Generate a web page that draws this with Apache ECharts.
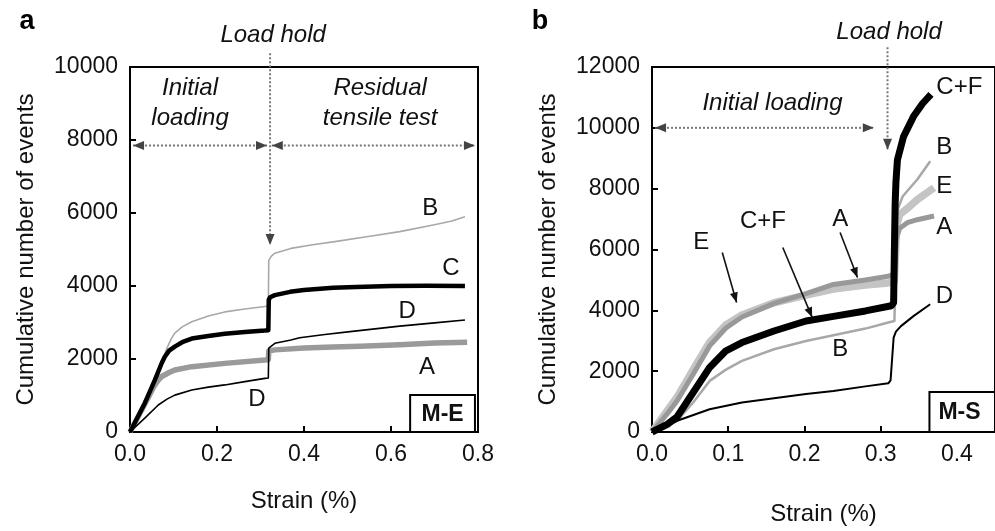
<!DOCTYPE html>
<html>
<head>
<meta charset="utf-8">
<script src="https://cdn.jsdelivr.net/npm/echarts@6/dist/echarts.min.js"></script>
<style>
  html, body { margin: 0; padding: 0; background: #fff; }
  #chart { width: 995px; height: 531px; }
</style>
</head>
<body>
<div id="chart"></div>
<script>
  // ---- panel a (M-E) ----
  var aB_strain = [0, 0.02, 0.04, 0.06, 0.075, 0.085, 0.095, 0.103, 0.12, 0.142, 0.18, 0.218, 0.264, 0.31, 0.318, 0.319, 0.325, 0.333, 0.37, 0.42, 0.467, 0.544, 0.62, 0.697, 0.74, 0.77];
  var aB_events = [0, 470, 960, 1500, 1960, 2300, 2560, 2710, 2880, 3020, 3180, 3290, 3370, 3440, 3460, 4700, 4820, 4900, 5030, 5130, 5210, 5350, 5490, 5670, 5780, 5900];
  var aC_strain = [0, 0.02, 0.034, 0.057, 0.073, 0.08, 0.09, 0.103, 0.12, 0.142, 0.18, 0.218, 0.264, 0.31, 0.318, 0.319, 0.322, 0.333, 0.368, 0.4, 0.467, 0.52, 0.6, 0.68, 0.77];
  var aC_events = [0, 460, 790, 1420, 1890, 2060, 2230, 2340, 2460, 2560, 2630, 2690, 2740, 2780, 2790, 3620, 3690, 3750, 3840, 3890, 3950, 3970, 4000, 4010, 4000];
  var aA_strain = [0, 0.02, 0.04, 0.055, 0.065, 0.073, 0.09, 0.103, 0.142, 0.218, 0.31, 0.318, 0.319, 0.333, 0.4, 0.467, 0.529, 0.62, 0.7, 0.775];
  var aA_events = [0, 450, 900, 1250, 1420, 1520, 1630, 1700, 1790, 1880, 1970, 1980, 2220, 2250, 2300, 2330, 2350, 2390, 2440, 2460];
  var aD_strain = [0, 0.034, 0.065, 0.085, 0.103, 0.142, 0.18, 0.218, 0.264, 0.31, 0.318, 0.319, 0.333, 0.37, 0.39, 0.448, 0.506, 0.62, 0.7, 0.77];
  var aD_events = [0, 380, 740, 900, 1010, 1150, 1230, 1290, 1380, 1470, 1480, 2300, 2430, 2520, 2580, 2670, 2750, 2900, 2990, 3070];

  // ---- panel b (M-S) ----
  var bCF_strain = [0, 0.02, 0.033, 0.054, 0.0756, 0.097, 0.118, 0.16, 0.202, 0.238, 0.28, 0.314, 0.317, 0.318, 0.319, 0.32, 0.322, 0.33, 0.343, 0.355, 0.366];
  var bCF_events = [0, 250, 500, 1300, 2120, 2670, 2940, 3320, 3650, 3800, 3980, 4150, 4250, 6000, 7500, 8200, 8950, 9710, 10370, 10800, 11100];
  var bA_strain = [0, 0.02, 0.033, 0.054, 0.0756, 0.097, 0.118, 0.16, 0.202, 0.238, 0.28, 0.31, 0.318, 0.321, 0.325, 0.335, 0.348, 0.37];
  var bA_events = [0, 600, 1030, 1900, 2830, 3420, 3780, 4230, 4550, 4850, 5000, 5120, 5200, 6400, 6700, 6880, 6980, 7100];
  var bE_strain = [0, 0.02, 0.033, 0.054, 0.0756, 0.097, 0.118, 0.16, 0.202, 0.238, 0.28, 0.31, 0.318, 0.321, 0.325, 0.335, 0.348, 0.37];
  var bE_events = [0, 700, 1150, 2050, 2950, 3520, 3850, 4250, 4500, 4700, 4830, 4900, 4950, 6800, 7150, 7350, 7640, 8030];
  var bB_strain = [0, 0.02, 0.033, 0.054, 0.0756, 0.097, 0.118, 0.16, 0.202, 0.238, 0.28, 0.31, 0.318, 0.32, 0.322, 0.329, 0.348, 0.365];
  var bB_events = [0, 200, 370, 970, 1680, 2050, 2340, 2720, 2990, 3180, 3400, 3600, 3650, 5500, 7300, 7750, 8300, 8900];
  var bD_strain = [0, 0.0165, 0.033, 0.0756, 0.118, 0.16, 0.202, 0.238, 0.28, 0.31, 0.313, 0.315, 0.317, 0.32, 0.3266, 0.343, 0.365];
  var bD_events = [0, 160, 370, 750, 970, 1110, 1250, 1350, 1500, 1600, 1700, 2400, 3100, 3300, 3480, 3810, 4200];

  var FONT = '"Liberation Sans", Arial, sans-serif';

  function zip(xs, ys) {
    return xs.map(function (x, i) { return [x, ys[i]]; });
  }

  function curve(name, idx, xs, ys, color, width) {
    return {
      name: name,
      type: 'line',
      xAxisIndex: idx,
      yAxisIndex: idx,
      data: zip(xs, ys),
      showSymbol: false,
      symbol: 'none',
      lineStyle: { color: color, width: width, join: 'round' },
      clip: true,
      animation: false
    };
  }

  function xAxisCfg(idx, max, interval, gap, showMax) {
    return {
      type: 'value', gridIndex: idx, min: 0, max: max, interval: interval,
      name: 'Strain (%)', nameLocation: 'middle', nameGap: gap,
      nameTextStyle: { fontSize: 24, fontFamily: FONT, color: '#111' },
      axisLine: { lineStyle: { color: '#000', width: 2 } },
      axisTick: { inside: true, length: 6, lineStyle: { color: '#000', width: 2 } },
      axisLabel: { fontSize: 23, fontFamily: FONT, color: '#111', margin: 11, showMaxLabel: showMax,
        formatter: function (v) { return v.toFixed(1); } },
      splitLine: { show: false }
    };
  }

  function yAxisCfg(idx, max) {
    return {
      type: 'value', gridIndex: idx, min: 0, max: max, interval: 2000,
      name: 'Cumulative number of events', nameLocation: 'middle', nameGap: 92,
      nameTextStyle: { fontSize: 24, fontFamily: FONT, color: '#111' },
      axisLine: { lineStyle: { color: '#000', width: 2 } },
      axisTick: { inside: true, length: 6, lineStyle: { color: '#000', width: 2 } },
      axisLabel: { fontSize: 23, fontFamily: FONT, color: '#111', margin: 12,
        formatter: function (v) { return String(v); } },
      splitLine: { show: false }
    };
  }

  var chart = echarts.init(document.getElementById('chart'));
  chart.setOption({
    animation: false,
    backgroundColor: '#fff',
    grid: [
      { left: 130, top: 67, width: 348, height: 365, show: true, borderColor: '#000', borderWidth: 2 },
      { left: 652, top: 67, width: 355, height: 366, show: true, borderColor: '#000', borderWidth: 2 }
    ],
    xAxis: [xAxisCfg(0, 0.8, 0.2, 57, true), xAxisCfg(1, 0.45, 0.1, 70, false)],
    yAxis: [yAxisCfg(0, 10000), yAxisCfg(1, 12000)],
    series: [
      curve('B', 0, aB_strain, aB_events, '#a8a8a8', 1.6),
      curve('A', 0, aA_strain, aA_events, '#9a9a9a', 5.5),
      curve('D', 0, aD_strain, aD_events, '#000', 1.6),
      curve('C', 0, aC_strain, aC_events, '#000', 4.5),
      curve('E', 1, bE_strain, bE_events, '#c4c4c4', 7.5),
      curve('A', 1, bA_strain, bA_events, '#999', 5),
      curve('B', 1, bB_strain, bB_events, '#a8a8a8', 2.5),
      curve('D', 1, bD_strain, bD_events, '#000', 2),
      curve('C+F', 1, bCF_strain, bCF_events, '#000', 7)
    ]
  });

  // ---- annotations, placed in data coordinates ----
  var aLabels = [
    { t: 'B', x: 0.69, y: 6137 }, { t: 'C', x: 0.738, y: 4493 },
    { t: 'D', x: 0.637, y: 3315 }, { t: 'A', x: 0.683, y: 1781 },
    { t: 'D', x: 0.292, y: 904 }
  ];
  var bLabels = [
    { t: 'B', x: 0.3835, y: 9344 }, { t: 'E', x: 0.3835, y: 8066 },
    { t: 'A', x: 0.3835, y: 6721 }, { t: 'D', x: 0.3835, y: 4459 },
    { t: 'B', x: 0.247, y: 2721 }, { t: 'E', x: 0.0646, y: 6230 },
    { t: 'C+F', x: 0.1456, y: 6918 }, { t: 'A', x: 0.247, y: 6984 }
  ];
  var bPointers = [
    { from: [0.0922, 5900], to: [0.111, 4260] },
    { from: [0.1716, 6066], to: [0.2101, 3770] },
    { from: [0.2468, 6557], to: [0.2696, 5082] }
  ];

  function P(g, x, y) { return chart.convertToPixel({ gridIndex: g }, [x, y]); }

  function head(tip, from, len, half, color) {
    var dx = tip[0] - from[0], dy = tip[1] - from[1];
    var d = Math.sqrt(dx * dx + dy * dy), ux = dx / d, uy = dy / d;
    var bx = tip[0] - ux * len, by = tip[1] - uy * len;
    return { type: 'polygon', z: 110,
      shape: { points: [tip, [bx - uy * half, by + ux * half], [bx + uy * half, by - ux * half]] },
      style: { fill: color } };
  }

  function dotted(p0, p1, both) {
    var els = [{ type: 'line', z: 100,
      shape: { x1: p0[0], y1: p0[1], x2: p1[0], y2: p1[1] },
      style: { stroke: '#777', lineWidth: 2, lineDash: [2, 2] } }];
    els.push(head(p1, p0, 11, 4.5, '#444'));
    if (both) els.push(head(p0, p1, 11, 4.5, '#444'));
    return els;
  }

  function txt(p, s, font, align) {
    return { type: 'text', z: 120, x: p[0], y: p[1],
      style: { text: s, font: font, fill: '#111', align: align || 'center', verticalAlign: 'middle', lineHeight: 30 } };
  }

  var LBL = '24px ' + FONT, ITAL = 'italic 24px ' + FONT, BOLD = 'bold 23px ' + FONT;
  var g = [];

  g.push({ type: 'text', x: 27, y: 22, style: { text: 'a', font: 'bold 27px ' + FONT, fill: '#000', align: 'center', verticalAlign: 'middle' } });
  g.push({ type: 'text', x: 540, y: 22, style: { text: 'b', font: 'bold 27px ' + FONT, fill: '#000', align: 'center', verticalAlign: 'middle' } });

  aLabels.forEach(function (l) { g.push(txt(P(0, l.x, l.y), l.t, LBL)); });
  bLabels.forEach(function (l) { g.push(txt(P(1, l.x, l.y), l.t, LBL)); });
  g.push(txt(P(1, 0.373, 11344), 'C+F', LBL, 'left'));

  g.push(txt(P(0, 0.329, 10877), 'Load hold', ITAL));
  g.push(txt(P(0, 0.138, 9014), 'Initial\nloading', ITAL));
  g.push(txt(P(0, 0.575, 9014), 'Residual\ntensile test', ITAL));
  g.push(txt(P(1, 0.311, 13148), 'Load hold', ITAL));
  g.push(txt(P(1, 0.158, 10820), 'Initial loading', ITAL));

  g = g.concat(dotted(P(0, 0.322, 10380), P(0, 0.322, 5120), false));
  g = g.concat(dotted(P(0, 0.007, 7850), P(0, 0.315, 7850), true));
  g = g.concat(dotted(P(0, 0.326, 7850), P(0, 0.793, 7850), true));
  g = g.concat(dotted(P(1, 0.309, 12650), P(1, 0.309, 9280), false));
  g = g.concat(dotted(P(1, 0.004, 10000), P(1, 0.291, 10000), true));

  bPointers.forEach(function (a) {
    var p0 = P(1, a.from[0], a.from[1]), p1 = P(1, a.to[0], a.to[1]);
    g.push({ type: 'line', z: 100, shape: { x1: p0[0], y1: p0[1], x2: p1[0], y2: p1[1] },
      style: { stroke: '#111', lineWidth: 1.6 } });
    g.push(head(p1, p0, 10, 4, '#111'));
  });

  // tag boxes
  var me0 = P(0, 0.644, 1014), me1 = P(0, 0.793, 0);
  g.push({ type: 'rect', z: 105, shape: { x: me0[0], y: me0[1], width: me1[0] - me0[0], height: me1[1] - me0[1] },
    style: { fill: '#fff', stroke: '#000', lineWidth: 2 } });
  g.push(txt([(me0[0] + me1[0]) / 2, (me0[1] + me1[1]) / 2 + 1], 'M-E', BOLD));
  var ms0 = P(1, 0.364, 1311), ms1 = P(1, 0.45, 0);
  g.push({ type: 'rect', z: 105, shape: { x: ms0[0], y: ms0[1], width: ms1[0] - ms0[0], height: ms1[1] - ms0[1] },
    style: { fill: '#fff', stroke: '#000', lineWidth: 2 } });
  g.push(txt([ms0[0] + 9, (ms0[1] + ms1[1]) / 2 + 1], 'M-S', BOLD, 'left'));

  chart.setOption({ graphic: g });
</script>
</body>
</html>
